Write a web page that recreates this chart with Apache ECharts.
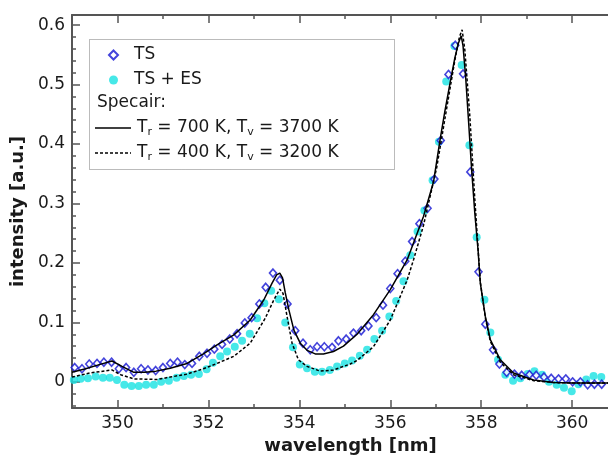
<!DOCTYPE html>
<html>
<head>
<meta charset="utf-8">
<script src="https://cdn.jsdelivr.net/npm/echarts@6/dist/echarts.min.js"></script>
<style>
html,body{margin:0;padding:0;background:#fff;}
#chart{width:608px;height:458px;}
</style>
</head>
<body>
<div id="chart"></div>
<script>
// ---- data ----
const tsX = [349.06,349.22,349.38,349.55,349.70,349.87,350.03,350.19,350.36,350.52,350.67,350.84,351.00,
  351.16,351.32,351.48,351.64,351.80,351.97,352.13,352.30,352.47,352.63,352.80,352.95,353.12,353.26,353.42,
  353.57,353.74,353.91,354.08,354.24,354.39,354.55,354.72,354.86,355.03,355.19,355.36,355.52,355.69,355.84,
  356.00,356.16,356.33,356.48,356.64,356.82,356.97,357.11,357.28,357.43,357.60,357.76,357.94,358.09,358.26,
  358.40,358.56,358.73,358.89,359.06,359.21,359.38,359.54,359.70,359.86,360.01,360.18,360.34,360.49,360.65];
const tsY = [0.024,0.022,0.030,0.031,0.033,0.033,0.022,0.024,0.016,0.022,0.020,0.019,0.024,
  0.031,0.033,0.029,0.031,0.043,0.048,0.055,0.063,0.072,0.081,0.099,0.108,0.131,0.159,0.183,
  0.171,0.131,0.086,0.065,0.054,0.059,0.059,0.058,0.069,0.072,0.082,0.086,0.094,0.108,0.129,
  0.157,0.182,0.203,0.236,0.266,0.292,0.341,0.406,0.517,0.566,0.518,0.353,0.185,0.097,0.054,
  0.030,0.016,0.013,0.011,0.012,0.011,0.008,0.006,0.005,0.005,0.000,0.000,-0.005,-0.004,-0.004];

const esX = [349.04,349.19,349.35,349.52,349.68,349.83,349.99,350.15,350.31,350.47,350.63,350.80,350.96,
  351.13,351.30,351.46,351.62,351.79,351.96,352.10,352.26,352.41,352.58,352.74,352.91,353.07,353.23,353.38,
  353.55,353.69,353.86,354.01,354.17,354.34,354.50,354.67,354.83,355.00,355.16,355.33,355.49,355.65,355.82,
  355.98,356.13,356.29,356.44,356.60,356.75,356.93,357.07,357.23,357.41,357.57,357.74,357.90,358.07,358.20,
  358.37,358.53,358.70,358.86,359.02,359.17,359.34,359.49,359.66,359.82,359.99,360.14,360.31,360.47,360.64];
const esY = [0.003,0.005,0.006,0.009,0.007,0.007,0.003,-0.005,-0.007,-0.007,-0.005,-0.005,0.000,
  0.002,0.007,0.010,0.012,0.013,0.021,0.032,0.043,0.051,0.059,0.069,0.081,0.107,0.132,0.153,
  0.139,0.100,0.058,0.029,0.023,0.017,0.017,0.020,0.026,0.031,0.036,0.044,0.054,0.072,0.086,
  0.110,0.136,0.169,0.213,0.253,0.288,0.339,0.404,0.505,0.565,0.533,0.398,0.243,0.138,0.083,
  0.037,0.012,0.002,0.006,0.013,0.018,0.012,0.000,-0.005,-0.010,-0.016,-0.004,0.004,0.010,0.008];

const fit700X = [349.0,349.3,349.6,349.88,350.1,350.36,350.6,350.85,351.16,351.53,351.89,352.19,352.56,352.92,
  353.22,353.40,353.50,353.57,353.63,353.69,353.77,353.88,354.02,354.17,354.35,354.53,354.75,354.97,355.27,
  355.63,356.0,356.37,356.73,356.95,357.09,357.20,357.32,357.42,357.50,357.56,357.60,357.66,357.72,357.79,
  357.86,357.93,357.98,358.09,358.20,358.42,358.71,359.15,359.59,360.03,360.8,361.3];
const fit700Y = [0.016,0.022,0.029,0.035,0.026,0.016,0.016,0.018,0.023,0.031,0.047,0.062,0.079,0.104,
  0.138,0.166,0.180,0.183,0.175,0.150,0.121,0.087,0.065,0.053,0.047,0.047,0.051,0.060,0.080,
  0.113,0.155,0.205,0.278,0.336,0.405,0.455,0.505,0.545,0.570,0.582,0.565,0.510,0.440,0.356,
  0.283,0.222,0.166,0.110,0.071,0.037,0.015,0.003,-0.001,-0.002,-0.002,-0.002];

const fit400X = [349.0,349.4,349.88,350.07,350.36,350.87,351.16,351.53,351.89,352.19,352.56,352.92,353.25,
  353.44,353.57,353.64,353.73,353.84,353.98,354.17,354.46,354.75,355.12,355.27,355.63,356.0,356.37,356.51,
  356.73,357.02,357.24,357.42,357.52,357.58,357.64,357.75,357.86,357.93,357.98,358.09,358.20,358.42,358.71,
  359.15,359.59,360.03,360.8,361.3];
const fit400Y = [0.008,0.015,0.020,0.012,0.005,0.004,0.008,0.013,0.022,0.031,0.043,0.065,0.107,
  0.138,0.156,0.149,0.110,0.065,0.037,0.026,0.018,0.020,0.030,0.036,0.059,0.104,0.171,0.205,
  0.263,0.360,0.460,0.541,0.580,0.592,0.558,0.446,0.306,0.225,0.168,0.108,0.068,0.033,0.012,
  0.002,-0.001,-0.002,-0.002,-0.002];

// tick labels / tick positions
const xMajorTicks = [350,352,354,356,358,360];
const xMinorTicks = [351,353,355,357,359,361];
const yMajorTicks = [0,0.1,0.2,0.3,0.4,0.5,0.6];
const yMinorTicks = [-0.04,-0.02,0.02,0.04,0.06,0.08,0.12,0.14,0.16,0.18,0.22,0.24,0.26,0.28,
  0.32,0.34,0.36,0.38,0.42,0.44,0.46,0.48,0.52,0.54,0.56,0.58];

const seriesNames = ['TS','TS + ES','Tr = 700 K, Tv = 3700 K','Tr = 400 K, Tv = 3200 K'];
const subLabels = {
  'Tr = 700 K, Tv = 3700 K': '{a|T}{s|r}{a| = 700 K, T}{s|v}{a| = 3700 K}',
  'Tr = 400 K, Tv = 3200 K': '{a|T}{s|r}{a| = 400 K, T}{s|v}{a| = 3200 K}'
};

const zip = (xs, ys) => xs.map((x, i) => [x, ys[i]]);

const FONT = 'DejaVu Sans';
const TXT = '#1a1a1a';
const AX = '#555';
const X_MIN = 349, X_MAX = 361.25, Y_MIN = -0.044, Y_MAX = 0.617;

const chart = echarts.init(document.getElementById('chart'), null, {renderer: 'canvas'});

const xBase = (pos, ticks, len, showLine, showLabel, name) => ({
  type: 'value', position: pos, min: X_MIN, max: X_MAX, gridIndex: 0,
  axisLine: {show: showLine, onZero: false, lineStyle: {color: AX, width: 2}},
  axisTick: {show: true, inside: true, length: len, customValues: ticks, lineStyle: {color: AX, width: 1.5}},
  axisLabel: {show: showLabel, customValues: ticks, fontFamily: FONT, fontSize: 17, color: TXT, margin: 7},
  splitLine: {show: false},
  name: name || '', nameLocation: 'middle', nameGap: 27,
  nameTextStyle: {fontFamily: FONT, fontSize: 18, fontWeight: 'bold', color: TXT}
});
const yBase = (ticks, len, showLine, showLabel, name) => ({
  type: 'value', position: 'left', min: Y_MIN, max: Y_MAX, gridIndex: 0,
  axisLine: {show: showLine, onZero: false, lineStyle: {color: AX, width: 2}},
  axisTick: {show: true, inside: true, length: len, customValues: ticks, lineStyle: {color: AX, width: 1.5}},
  axisLabel: {show: showLabel, customValues: ticks, fontFamily: FONT, fontSize: 17, color: TXT, margin: 7,
    padding: [4, 0, 0, 0],
    formatter: v => (Math.round(v * 10) / 10).toString()},
  splitLine: {show: false},
  name: name || '', nameLocation: 'middle', nameGap: 36, nameRotate: 90,
  nameTextStyle: {fontFamily: FONT, fontSize: 18, fontWeight: 'bold', color: TXT}
});

const option = {
  backgroundColor: '#fff',
  animation: false,
  grid: {left: 72, top: 15, width: 557, height: 393, containLabel: false, outerBoundsMode: 'none'},
  xAxis: [
    xBase('bottom', xMajorTicks, 8, true, true, 'wavelength [nm]'),
    xBase('bottom', xMinorTicks, 4, false, false),
    xBase('top', xMajorTicks, 8, true, false),
    xBase('top', xMinorTicks, 4, false, false)
  ],
  yAxis: [
    yBase(yMajorTicks, 8, true, true, 'intensity [a.u.]'),
    yBase(yMinorTicks, 4, false, false)
  ],
  legend: [
    {
      data: [seriesNames[0], seriesNames[1]],
      orient: 'vertical', left: 108, top: 45, padding: 0, itemGap: 5,
      itemWidth: 9, itemHeight: 9,
      textStyle: {fontFamily: FONT, fontSize: 17, color: TXT, lineHeight: 20, padding: [0, 0, 0, 11]}
    },
    {
      data: [{name: seriesNames[2], icon: 'none'}, {name: seriesNames[3], icon: 'none'}],
      orient: 'vertical', left: 95, top: 118, padding: 0, itemGap: 5,
      itemWidth: 37, itemHeight: 9,
      formatter: n => subLabels[n] || n,
      textStyle: {fontFamily: FONT, fontSize: 17, color: TXT, lineHeight: 20,
        rich: {
          a: {fontFamily: FONT, fontSize: 17, color: TXT, lineHeight: 20},
          s: {fontFamily: FONT, fontSize: 11, color: TXT, lineHeight: 12, verticalAlign: 'bottom'}
        }
      }
    }
  ],
  graphic: [
    {type: 'rect', left: 87, top: 37, z: 100, silent: true,
      shape: {width: 305, height: 130},
      style: {fill: 'none', stroke: '#777', lineWidth: 1, lineDash: [1, 1]}},
    {type: 'text', left: 97, top: 94, z: 100, silent: true,
      style: {text: 'Specair:', fontFamily: FONT, fontSize: 17, fill: TXT}},
    {type: 'line', z: 100, silent: true,
      shape: {x1: 95, y1: 128, x2: 131, y2: 128},
      style: {stroke: '#000', lineWidth: 1.5}},
    {type: 'line', z: 100, silent: true,
      shape: {x1: 95, y1: 153, x2: 131, y2: 153},
      style: {stroke: '#000', lineWidth: 1.5, lineDash: [3, 2]}}
  ],
  series: [
    {
      name: seriesNames[1], type: 'scatter', data: zip(esX, esY),
      symbol: 'circle', symbolSize: 8,
      itemStyle: {color: '#18e2e2'}, z: 2
    },
    {
      name: seriesNames[0], type: 'scatter', data: zip(tsX, tsY),
      symbol: 'diamond', symbolSize: [7, 8],
      itemStyle: {color: '#ffffff', borderColor: '#1414d2', borderWidth: 1.6}, z: 3
    },
    {
      name: seriesNames[2], type: 'line', data: zip(fit700X, fit700Y),
      showSymbol: false, symbol: 'none', smooth: false,
      lineStyle: {color: '#000', width: 1.5, type: 'solid'}, itemStyle: {color: '#000'}, z: 4
    },
    {
      name: seriesNames[3], type: 'line', data: zip(fit400X, fit400Y),
      showSymbol: false, symbol: 'none', smooth: false,
      lineStyle: {color: '#000', width: 1.5, type: [3, 2]}, itemStyle: {color: '#000'}, z: 4
    }
  ]
};
chart.setOption(option);
</script>
</body>
</html>
